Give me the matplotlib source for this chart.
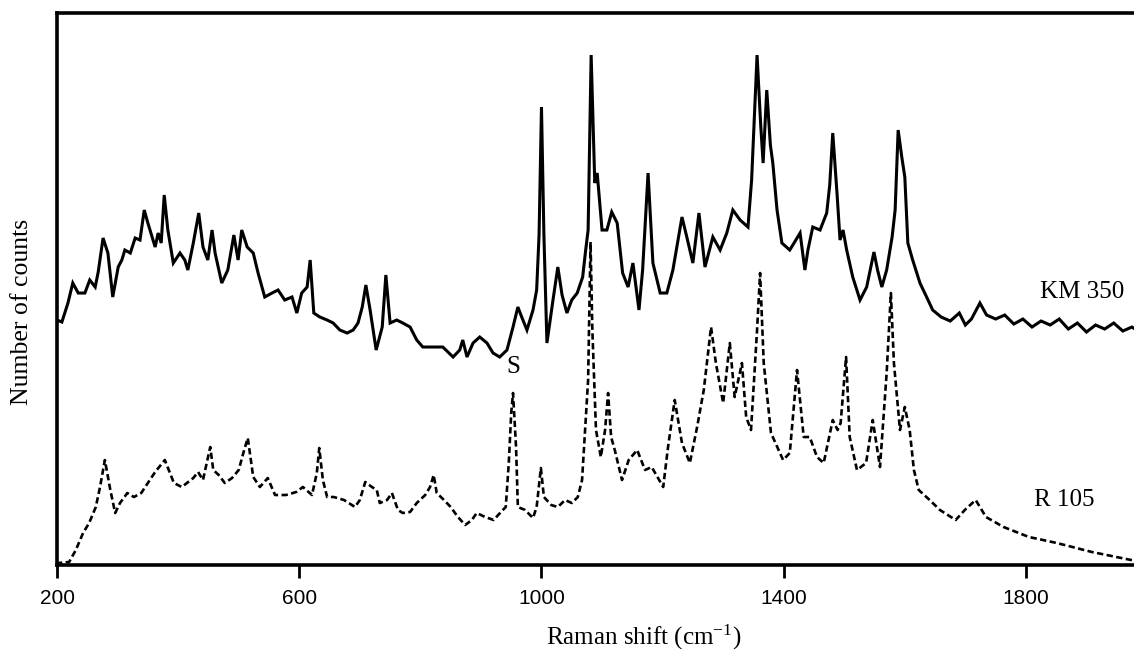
import matplotlib
matplotlib.use('Agg')
import matplotlib.pyplot as plt

# Raman spectra (counts in arbitrary units)
km350_shift = [200, 208, 218, 226, 235, 246, 254, 263, 268, 276, 284, 292, 301, 307, 312,
               321, 329, 337, 344, 350, 362, 367, 372, 377, 383, 392, 403, 411, 416, 425,
               434, 441, 449, 456, 461, 472, 482, 492, 499, 505, 514, 524, 532, 543, 555,
               565, 576, 588, 596, 604, 613, 618, 624, 634, 646, 656, 667, 679, 689, 697,
               704, 710, 717, 727, 737, 743, 750, 761, 771, 783, 794, 804, 821, 837, 854,
               865, 870, 877, 887, 898, 910, 920, 931, 943, 953, 961, 968, 976, 986, 992,
               996, 1000, 1004, 1009, 1019, 1027, 1034, 1042, 1050, 1059, 1068, 1073, 1077,
               1082, 1088, 1092, 1100, 1108, 1116, 1125, 1134, 1143, 1151, 1161, 1167, 1176,
               1184, 1196, 1207, 1217, 1232, 1240, 1250, 1260, 1270, 1283, 1295, 1306, 1316,
               1328, 1341, 1347, 1356, 1362, 1366, 1372, 1378, 1382, 1389, 1397, 1410, 1427,
               1435, 1440, 1448, 1460, 1471, 1476, 1481, 1486, 1488, 1493, 1498, 1504, 1514,
               1526, 1537, 1549, 1555, 1562, 1570, 1579, 1584, 1589, 1595, 1600, 1605, 1613,
               1625, 1636, 1646, 1660, 1675, 1690, 1700, 1710, 1724, 1735, 1750, 1765, 1780,
               1795, 1810, 1825, 1840, 1855, 1870, 1885, 1900, 1915, 1930, 1945, 1960, 1975,
               1990, 2000]
km350_counts = [245, 243, 262, 282, 272, 272, 285, 278, 293, 327, 312, 268, 298, 305, 315,
                312, 327, 325, 355, 342, 318, 332, 322, 370, 335, 302, 312, 305, 295, 322,
                352, 318, 305, 335, 312, 282, 295, 330, 305, 335, 318, 312, 292, 268, 272,
                275, 265, 268, 252, 272, 278, 305, 252, 248, 245, 242, 235, 232, 235, 242,
                258, 280, 255, 215, 238, 290, 242, 245, 242, 238, 225, 218, 218, 218, 208,
                215, 225, 208, 222, 228, 222, 212, 208, 215, 238, 258, 247, 235, 255, 275,
                330, 458, 330, 222, 265, 298, 270, 252, 265, 272, 288, 315, 335,
                510, 382, 392, 335, 335, 353, 342, 292, 278, 302, 255, 295, 392,
                302, 272, 272, 295, 348, 328, 302, 352, 298, 328, 315, 332, 355,
                345, 338, 385, 510, 440, 402, 475, 420, 402, 355, 322, 315, 332,
                295, 315, 338, 335, 352, 380, 432, 390, 372, 325, 335, 315, 288,
                265, 278, 313, 295, 278, 295, 328, 355, 435, 408, 388, 322, 305,
                282, 268, 255, 248, 244, 252, 240, 246, 262, 250, 246, 250, 241,
                246, 238, 244, 240, 246, 236, 242, 233, 240, 236, 242, 234, 238,
                232, 236]

r105_shift = [200, 202, 220, 231, 243, 253, 264, 271, 279, 288, 296, 304, 316, 327, 339,
              350, 362, 378, 393, 406, 425, 433, 441, 453, 458, 467, 477, 489, 500, 509,
              515, 524, 535, 548, 560, 578, 595, 606, 621, 629, 633, 639, 646, 657, 674,
              692, 700, 709, 720, 728, 733, 745, 753, 763, 771, 783, 794, 808, 816, 822,
              827, 839, 850, 862, 874, 885, 893, 907, 921, 933, 941, 946, 950, 953, 958,
              961, 973, 986, 992, 999, 1004, 1016, 1027, 1039, 1050, 1060, 1067, 1072, 1077,
              1081, 1084, 1090, 1098, 1105, 1110, 1115, 1121, 1133, 1144, 1158, 1171, 1182,
              1201, 1209, 1220, 1232, 1245, 1257, 1268, 1280, 1288, 1300, 1311, 1319, 1331,
              1338, 1346, 1356, 1361, 1367, 1379, 1399, 1410, 1422, 1433, 1443, 1455, 1466,
              1481, 1489, 1494, 1503, 1509, 1521, 1536, 1547, 1559, 1570, 1577, 1582, 1592,
              1600, 1608, 1615, 1623, 1641, 1658, 1684, 1699, 1717, 1734, 1763, 1805, 1851,
              1909, 1973, 2000]
r105_counts = [0, 2, 3, 15, 32, 42, 58, 78, 105, 75, 52, 62, 72, 68, 72,
               82, 93, 105, 82, 78, 87, 93, 85, 118, 95, 90, 82, 87, 95, 115,
               127, 88, 78, 87, 70, 70, 73, 78, 70, 92, 117, 85, 68, 68, 65,
               58, 65, 83, 78, 75, 62, 65, 72, 55, 52, 53, 62, 70, 78, 90,
               72, 65, 58, 48, 40, 45, 52, 48, 45, 53, 58, 102, 152, 172, 118,
               58, 55, 47, 58, 97, 68, 60, 58, 65, 62, 68, 85, 135, 185,
               323, 235, 135, 108, 135, 172, 128, 115, 85, 105, 115, 95, 98,
               78, 118, 165, 122, 102, 138, 175, 238, 202, 162, 222, 168, 202,
               148, 135, 235, 292, 202, 132, 105, 112, 195, 128, 128, 108, 102,
               145, 135, 142, 208, 128, 95, 102, 145, 98, 192, 272, 202, 135,
               158, 135, 95, 75, 65, 55, 45, 55, 65, 48, 38, 28, 22,
               13, 5, 2]

xticks = [200, 600, 1000, 1400, 1800]

serif = 'Liberation Serif'
plt.rcParams['mathtext.default'] = 'regular'

fig = plt.figure(figsize=(11.34, 6.55), dpi=100)
ax = fig.add_axes([0.0503, 0.1374, 0.9612, 0.8427])

ax.plot(km350_shift, km350_counts, color='black', lw=2.2, solid_joinstyle='miter')
ax.plot(r105_shift, r105_counts, color='black', lw=1.9, linestyle=(0, (2.4, 1.3)))

ax.set_xlim(200, 2000)
ax.set_ylim(0, 552)
ax.set_xticks(xticks)
ax.set_yticks([])
ax.tick_params(axis='x', direction='out', length=9, width=2, pad=8, labelsize=15)
for lab in ax.get_xticklabels():
    lab.set_family('Liberation Sans')
for sp in ax.spines.values():
    sp.set_linewidth(2.6)

ax.set_xlabel('Raman shift (cm$^{-1}$)', family=serif, fontsize=18)
ax.xaxis.set_label_coords(0.538, -0.132)
ax.xaxis.label.set_verticalalignment('center')
ax.set_ylabel('Number of counts', family=serif, fontsize=18.5)
ax.yaxis.set_label_coords(-0.032, 0.458)
ax.yaxis.label.set_verticalalignment('center')

ax.text(1823, 273, 'KM 350', family=serif, fontsize=18, ha='left', va='center')
ax.text(1813, 65, 'R 105', family=serif, fontsize=18, ha='left', va='center')
ax.text(953, 198, 'S', family=serif, fontsize=18, ha='center', va='center')

fig.savefig('out.png', dpi=100)
